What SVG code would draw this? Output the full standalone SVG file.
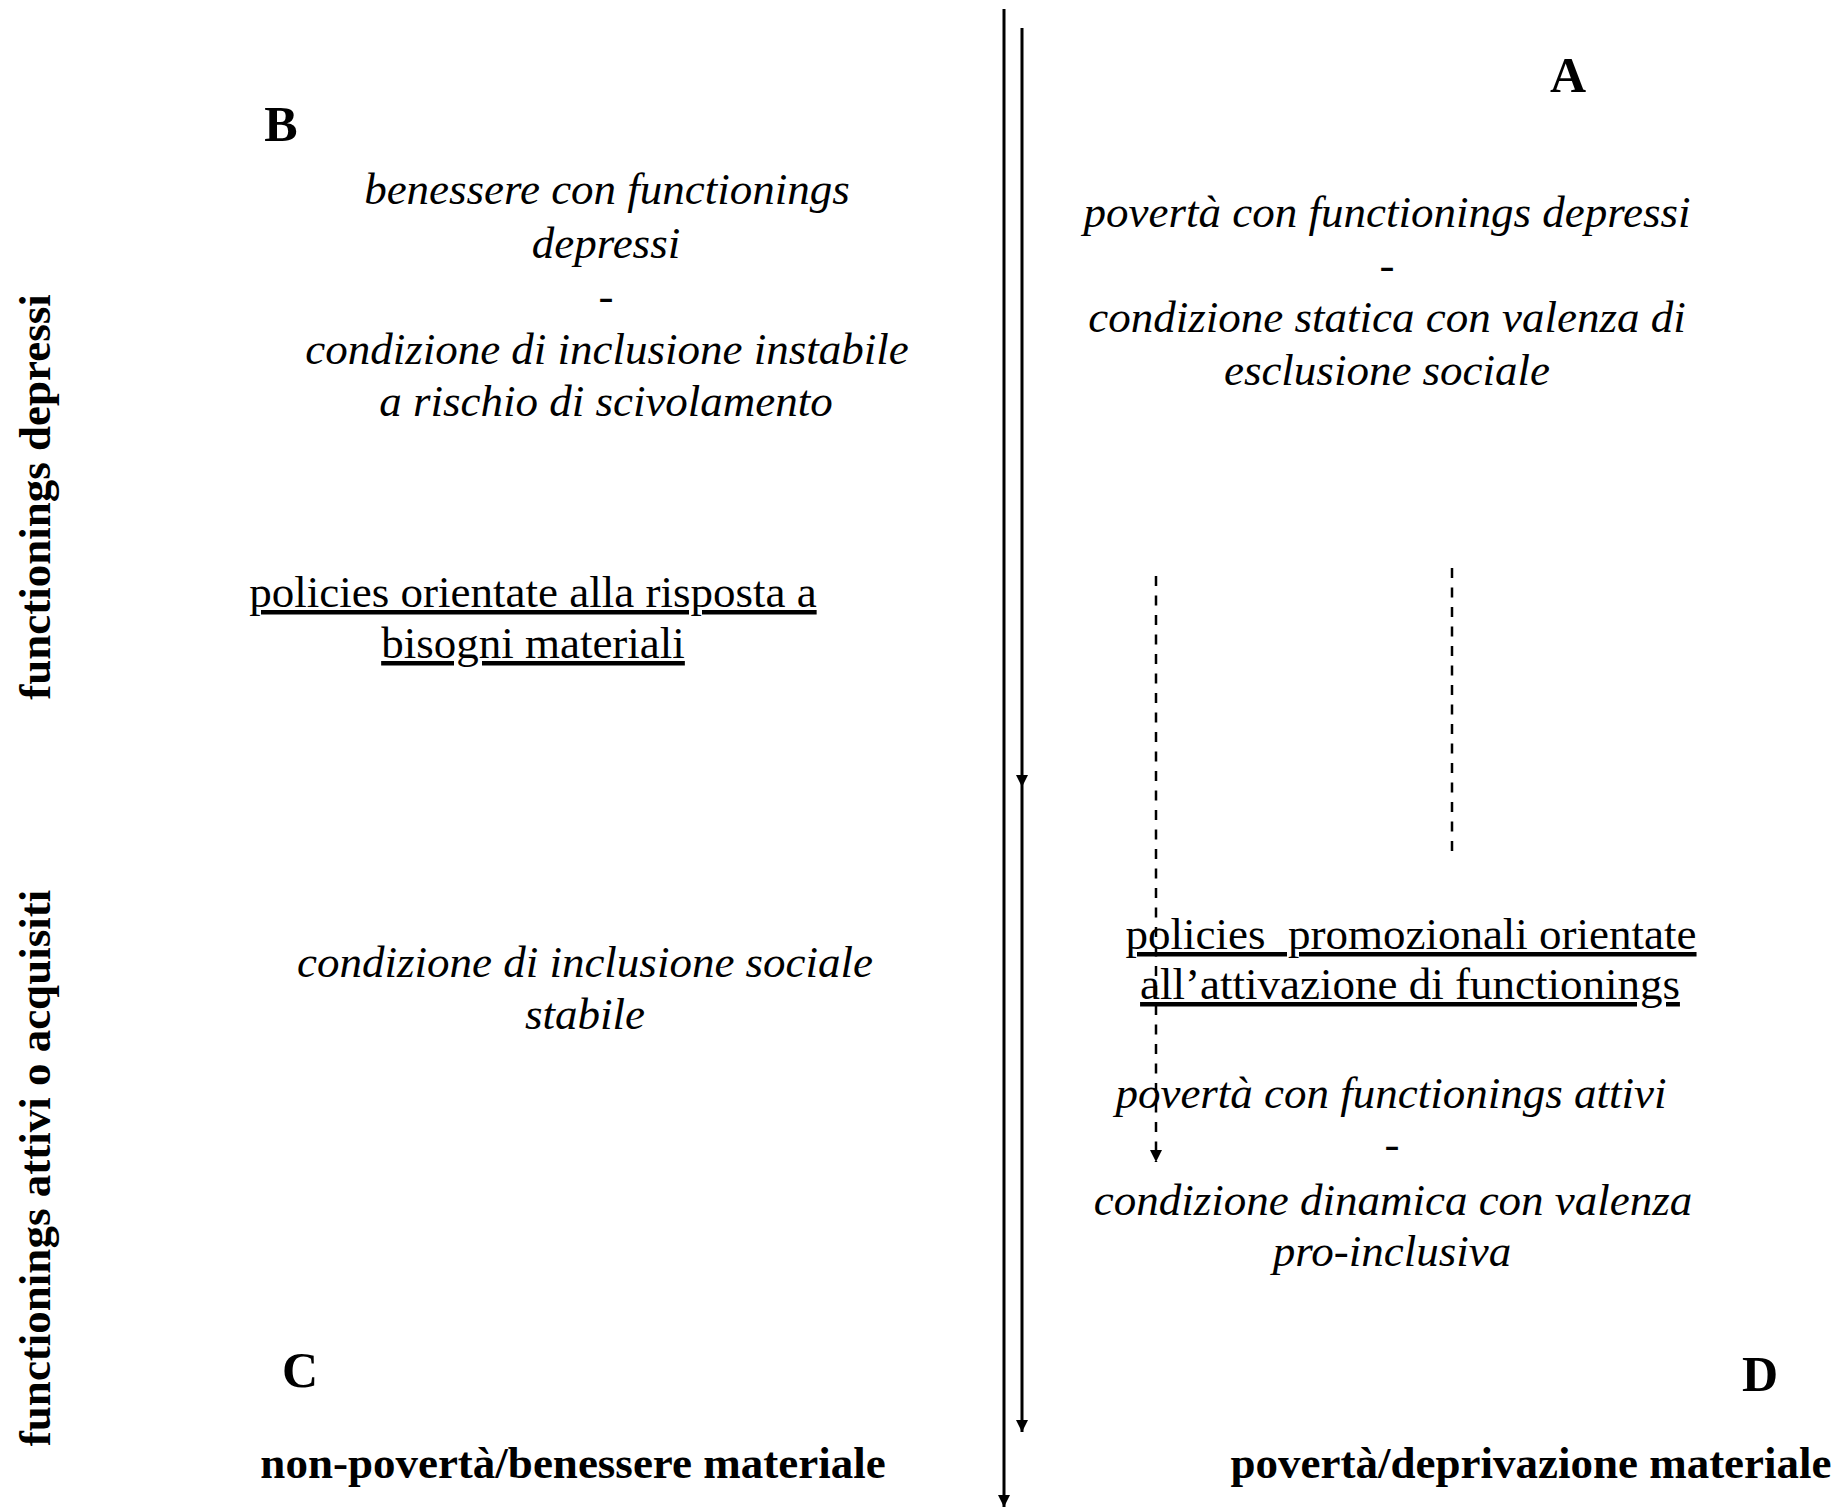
<svg xmlns="http://www.w3.org/2000/svg" width="1841" height="1508" viewBox="0 0 1841 1508">
<style>
text{font-family:"Liberation Serif","Times New Roman",serif;font-size:45px;fill:#000;text-anchor:middle}
.it{font-style:italic}
.b{font-weight:bold}
.big{font-weight:bold;font-size:50px}
.u{text-decoration:underline}
.solid{stroke:#000;stroke-width:3;fill:none}
.dash{stroke:#000;stroke-width:2.5;fill:none;stroke-dasharray:10 9.5}
</style>
<defs>
<marker id="ah" markerUnits="userSpaceOnUse" markerWidth="14" markerHeight="14" refX="12" refY="6" orient="auto">
<path d="M0,0 L12,6 L0,12 Z" fill="#000"/>
</marker>
</defs>
<rect width="1841" height="1508" fill="#fff"/>
<g id="connectors">
<line class="solid" x1="1004" y1="9" x2="1004" y2="1507" marker-end="url(#ah)"/>
<line class="solid" x1="1022" y1="28" x2="1022" y2="787" marker-end="url(#ah)"/>
<line class="solid" x1="1022" y1="787" x2="1022" y2="1432" marker-end="url(#ah)"/>
<line class="dash" x1="1156" y1="576" x2="1156" y2="1162" marker-end="url(#ah)"/>
<line class="dash" x1="1452" y1="568" x2="1452" y2="858"/>
</g>
<g id="axis-left">
<text class="b" transform="translate(50,497) rotate(-90)">functionings depressi</text>
<text class="b" transform="translate(50,1168) rotate(-90)">functionings attivi o acquisiti</text>
</g>
<g id="node-B">
<text class="big" x="281" y="141">B</text>
<text class="it" x="607" y="204">benessere con functionings</text>
<text class="it" x="606" y="258">depressi</text>
<text class="it" x="606" y="311">-</text>
<text class="it" x="607" y="364">condizione di inclusione instabile</text>
<text class="it" x="606" y="416">a rischio di scivolamento</text>
</g>
<g id="node-A">
<text class="big" x="1568" y="92">A</text>
<text class="it" x="1387" y="227">povertà con functionings depressi</text>
<text class="it" x="1387" y="280">-</text>
<text class="it" x="1387" y="332">condizione statica con valenza di</text>
<text class="it" x="1387" y="385">esclusione sociale</text>
</g>
<g id="policy-left">
<text class="u" x="533" y="607">policies orientate alla risposta a</text>
<text class="u" x="533" y="658">bisogni materiali</text>
</g>
<g id="node-C">
<text class="it" x="585" y="977">condizione di inclusione sociale</text>
<text class="it" x="585" y="1029">stabile</text>
<text class="big" x="300" y="1387">C</text>
</g>
<g id="policy-right">
<text class="u" x="1411" y="949" xml:space="preserve">policies  promozionali orientate</text>
<text class="u" x="1410" y="999">all’attivazione di functionings</text>
</g>
<g id="node-D">
<text class="it" x="1391" y="1108">povertà con functionings attivi</text>
<text class="it" x="1392" y="1159">-</text>
<text class="it" x="1393" y="1215">condizione dinamica con valenza</text>
<text class="it" x="1392" y="1266">pro-inclusiva</text>
<text class="big" x="1760" y="1391">D</text>
</g>
<g id="axis-bottom">
<text class="b" x="573" y="1478">non-povertà/benessere materiale</text>
<text class="b" x="1531" y="1478">povertà/deprivazione materiale</text>
</g>
</svg>
